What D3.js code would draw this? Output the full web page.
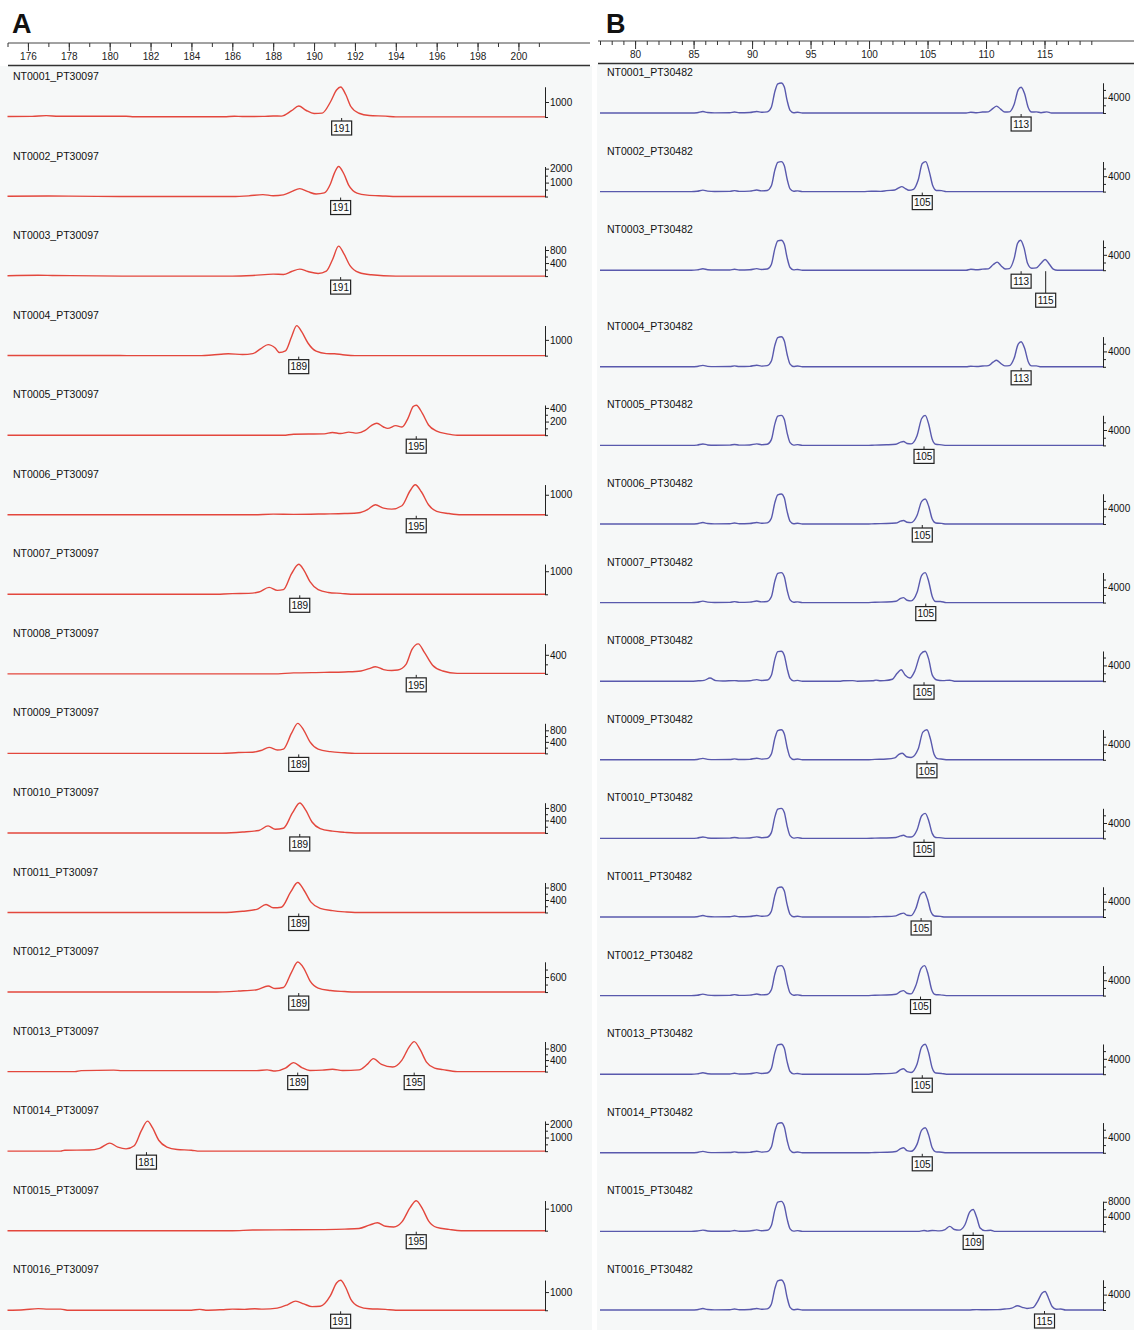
<!DOCTYPE html>
<html lang="en">
<head>
<meta charset="UTF-8">
<title>Electropherograms PT30097 / PT30482</title>
<style>
  body { margin: 0; background: #fff; }
  svg { display: block; font-family: "Liberation Sans", Arial, sans-serif; }
  .trace { fill: none; stroke-width: 1.4; stroke-linejoin: round; }
  .yaxis path, .yaxis line { stroke: #222; }
  .yaxis text { font-size: 10px; fill: #111; font-family: "Liberation Sans", Arial, sans-serif; }
  .head path { display: none; }
  .head line { stroke: #333; }
  .head text { font-size: 10px; fill: #222; font-family: "Liberation Sans", Arial, sans-serif; }
</style>
</head>
<body>
<svg id="chart" width="1134" height="1330"></svg>
<script src="https://d3js.org/d3.v7.min.js"></script>
<script>
// sample / marker names
const sampleIds = ["NT0001","NT0002","NT0003","NT0004","NT0005","NT0006","NT0007","NT0008",
                   "NT0009","NT0010","NT0011","NT0012","NT0013","NT0014","NT0015","NT0016"];
const markerA = "PT30097";
const markerB = "PT30482";

// size (bp) ruler labels
const headerTicksA = [176,178,180,182,184,186,188,190,192,194,196,198,200];
const headerTicksB = [80,85,90,95,100,105,110,115];

// RFU axis ticks per lane
const yTicksA = [[1000],[2000,1000],[800,400],[1000],[400,200],[1000],[1000],[400],
                 [800,400],[800,400],[800,400],[600],[800,400],[2000,1000],[1000],[1000]];
const yMinorA = [[0],[0,500,1500],[0,200,600],[0],[0,100,300],[0],[0],[0,200],
                 [0,200,600],[0,200,600],[0,200,600],[0,300,900],[0,200,600],[0,500,1500],[0],[0]];
const yTicksB = [[4000],[4000],[4000],[4000],[4000],[4000],[4000],[4000],
                 [4000],[4000],[4000],[4000],[4000],[4000],[8000,4000],[4000]];
const yMinorB = [0,2000,6000];

// called alleles [bp, label, staggered]
const allelesA = [[[191.35,"191"]],[[191.3,"191"]],[[191.3,"191"]],[[189.25,"189"]],
                  [[195.0,"195"]],[[195.0,"195"]],[[189.3,"189"]],[[195.0,"195"]],
                  [[189.25,"189"]],[[189.3,"189"]],[[189.25,"189"]],[[189.25,"189"]],
                  [[189.2,"189"],[194.9,"195"]],[[181.8,"181"]],[[195.0,"195"]],[[191.3,"191"]]];
const allelesB = [[[113.0,"113"]],[[104.55,"105"]],[[113.0,"113"],[115.1,"115",1]],[[113.0,"113"]],
                  [[104.7,"105"]],[[104.55,"105"]],[[104.85,"105"]],[[104.7,"105"]],
                  [[104.95,"105"]],[[104.7,"105"]],[[104.45,"105"]],[[104.4,"105"]],
                  [[104.55,"105"]],[[104.55,"105"]],[[108.9,"109"]],[[115.0,"115"]]];

// traces, PT30097 (red): [bp, RFU]
const tracesA = [
  [[175,30],[176.2,40],[176.9,90],[177.5,50],[180.8,50],[181.2,20],[185.6,20],[186.1,50],[186.5,30],[187.5,40],[188,70],[188.4,60],[188.9,420],[189.25,730],[189.6,450],[190,230],[190.4,260],[190.8,1000],[191.1,1800],[191.3,2000],[191.55,1500],[191.8,700],[192.2,250],[192.7,100],[193.5,60],[194,10],[201.3,10]],
  [[175,20],[177,40],[178,30],[181,0],[186,0],[186.8,50],[187.5,140],[188,60],[188.5,120],[188.9,350],[189.3,570],[189.7,350],[190.1,180],[190.5,260],[190.8,900],[191.0,1700],[191.2,2150],[191.45,1650],[191.7,800],[192.1,250],[192.6,100],[193.5,40],[194,0],[201.3,0]],
  [[175,10],[176.5,25],[177.2,20],[181,0],[186,0],[187,20],[188,60],[188.5,50],[188.9,140],[189.3,215],[189.7,140],[190.2,80],[190.6,150],[190.9,500],[191.2,920],[191.45,700],[191.75,330],[192.2,110],[192.8,40],[194,0],[201.3,0]],
  [[175,10],[180,10],[181,0],[184.5,0],[185,40],[185.8,120],[186.5,70],[187,130],[187.4,450],[187.75,700],[188.1,480],[188.3,200],[188.6,300],[188.9,1200],[189.15,1900],[189.4,1500],[189.7,800],[190.1,280],[190.6,130],[191,120],[191.4,60],[192,0],[201.3,0]],
  [[175,0],[188.5,0],[189,15],[190.5,20],[190.9,40],[191.3,25],[191.7,45],[192.1,30],[192.5,70],[192.8,140],[193.07,175],[193.4,120],[193.6,100],[194.0,140],[194.3,120],[194.6,250],[194.85,420],[195.0,440],[195.3,320],[195.6,150],[196,60],[196.5,20],[197,0],[201.3,0]],
  [[175,0],[187,0],[188,30],[189,20],[190.5,40],[191.5,60],[192.2,100],[192.6,250],[193.0,500],[193.4,330],[193.8,280],[194.3,450],[194.7,1200],[194.95,1500],[195.25,1150],[195.6,500],[196,170],[196.6,60],[197.2,0],[201.3,0]],
  [[175,0],[185,0],[186,30],[186.8,40],[187.3,100],[187.8,300],[188.2,170],[188.5,200],[188.9,900],[189.25,1300],[189.5,1050],[189.8,550],[190.2,200],[190.7,80],[191.3,40],[192,0],[201.3,0]],
  [[175,0],[188,0],[189,20],[190.5,30],[191.5,40],[192.3,60],[192.7,110],[193.0,150],[193.4,90],[193.8,70],[194.1,80],[194.5,200],[194.8,520],[195.1,630],[195.4,450],[195.8,180],[196.3,60],[197,10],[201.3,10]],
  [[175,0],[185.5,0],[186.3,30],[187,40],[187.4,100],[187.8,210],[188.2,120],[188.5,150],[188.9,700],[189.2,1040],[189.5,800],[189.8,400],[190.2,150],[190.8,60],[191.5,20],[192,0],[201.3,0]],
  [[175,0],[185.5,0],[186.5,30],[187.3,80],[187.75,225],[188.1,120],[188.5,150],[188.95,650],[189.3,960],[189.6,720],[189.9,350],[190.3,140],[190.9,60],[191.5,20],[192,0],[201.3,0]],
  [[175,0],[185.5,0],[186.5,40],[187.2,100],[187.65,255],[188.0,150],[188.4,170],[188.85,650],[189.2,960],[189.5,720],[189.85,330],[190.3,130],[190.9,60],[191.5,20],[192,0],[201.3,0]],
  [[175,0],[185,0],[186.3,40],[187.2,90],[187.75,240],[188.1,140],[188.5,180],[188.9,800],[189.2,1200],[189.5,950],[189.8,450],[190.2,160],[190.8,60],[191.5,20],[192,0],[201.3,0]],
  [[175,0],[178.3,0],[178.6,35],[180.2,50],[180.6,35],[187.2,35],[187.7,60],[188.1,20],[188.6,120],[189.0,310],[189.4,140],[189.8,40],[190.4,50],[190.9,80],[191.4,40],[192.2,60],[192.6,250],[192.9,450],[193.3,250],[193.85,160],[194.3,400],[194.65,850],[194.9,1040],[195.2,750],[195.5,330],[195.9,120],[196.3,70],[197,0],[201.3,0]],
  [[175,0],[177.6,0],[177.8,70],[179,80],[179.5,200],[180.0,590],[180.4,300],[180.8,170],[181.2,400],[181.55,1500],[181.85,2200],[182.1,1700],[182.4,800],[182.8,300],[183.3,120],[184,70],[184.4,0],[201.3,0]],
  [[175,0],[186,0],[187,30],[189,40],[190.5,50],[191.5,70],[192.2,100],[192.7,250],[193.1,360],[193.5,200],[193.9,170],[194.3,400],[194.7,1050],[195.0,1360],[195.3,1000],[195.6,450],[196,150],[196.6,60],[197.2,0],[201.3,0]],
  [[175,0],[175.8,30],[176.5,90],[177,60],[177.6,60],[178,0],[184,0],[184.4,50],[184.7,0],[185.5,30],[186,60],[186.6,50],[187.1,80],[187.5,60],[188.2,120],[188.7,300],[189.1,500],[189.5,350],[189.9,200],[190.3,220],[190.8,800],[191.1,1500],[191.3,1650],[191.55,1250],[191.8,600],[192.2,200],[192.7,80],[193.5,50],[194,0],[201.3,0]]
];

// PT30482 (blue): the 92 bp peak seen in every lane, then lane-specific part
const lead92 = [[77,0],[84.8,0],[85.3,80],[85.8,380],[86.2,120],[86.8,40],[88.1,60],[88.5,250],[88.9,60],[89.8,120],[90.4,400],[90.8,180],[91.3,300],[91.65,1500],[91.95,5600],[92.2,7600],[92.5,7800],[92.75,6800],[93.0,3200],[93.25,700],[93.55,80],[93.9,200],[94.3,0]];
const lead92b = [[77,0],[84.8,0],[85.4,100],[85.9,200],[86.4,800],[86.9,150],[87.5,60],[88.5,150],[88.9,60],[89.8,120],[90.4,400],[90.8,180],[91.3,300],[91.65,1500],[91.95,5600],[92.2,7500],[92.5,7600],[92.75,6600],[93.0,3200],[93.25,700],[93.55,80],[93.9,200],[94.3,0]];
const lead92c = [[77,0],[84.8,0],[85.3,100],[85.8,350],[86.2,120],[86.8,40],[88.1,60],[88.5,250],[88.9,60],[89.8,120],[90.4,400],[90.8,180],[91.3,300],[91.65,1600],[91.95,5800],[92.2,7900],[92.5,8100],[92.75,7000],[93.0,3300],[93.25,700],[93.55,80],[93.9,200],[94.3,0]];

const tailsB = [
  [[108.3,0],[108.7,200],[109.2,80],[109.7,250],[110.2,300],[110.6,1200],[110.9,1800],[111.25,1000],[111.6,250],[112.0,300],[112.4,2200],[112.75,6000],[113.0,6700],[113.3,5000],[113.6,1500],[113.9,250],[114.3,300],[114.7,80],[115.2,300],[115.6,0],[120,0]],
  [[99.5,0],[100.2,100],[101,60],[101.5,250],[102.2,400],[102.5,900],[102.8,1300],[103.1,800],[103.4,350],[103.8,600],[104.2,3000],[104.55,7300],[104.85,7800],[105.15,5200],[105.45,1500],[105.75,300],[106.2,250],[106.6,0],[120,0]],
  [[108.3,0],[108.7,250],[109.2,100],[109.7,280],[110.2,350],[110.6,1400],[110.95,2100],[111.3,1100],[111.65,300],[112.0,400],[112.4,3000],[112.7,7000],[112.95,7800],[113.25,5800],[113.55,1800],[113.9,500],[114.3,600],[114.7,1800],[115.05,2800],[115.4,1600],[115.75,300],[116.1,0],[120,0]],
  [[108.3,0],[108.7,150],[109.2,80],[109.7,200],[110.2,300],[110.6,1200],[110.9,1700],[111.25,900],[111.6,250],[112.0,300],[112.4,2200],[112.75,5900],[113.0,6500],[113.3,4800],[113.6,1400],[113.9,250],[114.3,250],[114.7,0],[120,0]],
  [[99.8,0],[100.5,80],[101.5,150],[102.3,300],[102.7,850],[102.95,1000],[103.25,500],[103.6,400],[104.1,2500],[104.5,7000],[104.8,7800],[105.1,5500],[105.4,1600],[105.7,300],[106.2,150],[106.6,0],[120,0]],
  [[99.8,0],[100.5,80],[101.5,120],[102.3,250],[102.7,750],[102.95,900],[103.25,450],[103.6,350],[104.1,2200],[104.5,5900],[104.8,6500],[105.1,4600],[105.4,1300],[105.7,250],[106.2,150],[106.6,0],[120,0]],
  [[99.8,0],[100.5,100],[101.5,150],[102.3,350],[102.7,1100],[102.95,1300],[103.25,600],[103.6,450],[104.1,2600],[104.5,7100],[104.8,7800],[105.1,5500],[105.4,1600],[105.7,300],[106.1,300],[106.6,0],[120,0]],
  [[94.6,0],[97.5,0],[97.8,120],[98.6,150],[99,0],[100.3,100],[100.6,260],[101,120],[101.3,150],[102.0,500],[102.4,2000],[102.75,2900],[103.1,1500],[103.5,800],[103.9,2500],[104.4,6800],[104.8,7600],[105.1,5600],[105.4,1600],[105.8,300],[106.3,150],[106.9,250],[107.3,0],[120,0]],
  [[99.8,0],[100.5,100],[101.5,200],[102.2,500],[102.55,1400],[102.85,1700],[103.2,800],[103.6,600],[104.2,2800],[104.6,7200],[104.95,7800],[105.25,5400],[105.55,1500],[105.85,300],[106.3,150],[106.7,0],[120,0]],
  [[99.8,0],[100.5,80],[101.5,120],[102.3,250],[102.7,650],[102.95,800],[103.25,400],[103.6,350],[104.1,2200],[104.5,5900],[104.8,6500],[105.1,4600],[105.4,1300],[105.7,250],[106.2,150],[106.6,0],[120,0]],
  [[99.8,0],[100.5,80],[101.5,120],[102.3,300],[102.7,850],[102.95,1000],[103.25,450],[103.6,350],[104.0,2200],[104.4,5900],[104.7,6500],[105.0,4600],[105.3,1300],[105.6,250],[106.1,150],[106.5,0],[120,0]],
  [[99.8,0],[100.5,100],[101.5,150],[102.3,350],[102.7,1100],[102.95,1300],[103.25,600],[103.6,450],[104.0,2600],[104.45,7100],[104.75,7800],[105.05,5500],[105.35,1600],[105.65,300],[106.1,200],[106.6,0],[120,0]],
  [[99.8,0],[100.5,100],[101.5,150],[102.3,350],[102.7,1200],[102.95,1400],[103.25,650],[103.6,450],[104.1,2600],[104.5,7100],[104.8,7800],[105.1,5500],[105.4,1600],[105.7,300],[106.2,200],[106.6,0],[120,0]],
  [[99.8,0],[100.5,80],[101.5,150],[102.3,350],[102.7,1100],[102.95,1300],[103.25,550],[103.6,400],[104.1,2200],[104.5,5900],[104.8,6500],[105.1,4600],[105.4,1300],[105.7,250],[106.2,150],[106.6,0],[120,0]],
  [[104.3,0],[104.7,250],[105.0,80],[105.4,250],[106,150],[106.5,500],[106.9,1350],[107.3,500],[107.7,350],[108.2,1800],[108.6,5200],[108.9,5900],[109.2,3800],[109.5,900],[109.9,200],[110.4,300],[110.8,0],[120,0]],
  [[108.5,0],[109.2,100],[110,60],[111,100],[111.6,250],[112.2,500],[112.7,1100],[113.1,700],[113.5,400],[114.0,600],[114.4,2200],[114.8,4400],[115.05,4800],[115.35,3000],[115.65,900],[116.0,200],[116.4,250],[116.8,0],[120,0]]
];
const tracesB = tailsB.map((t, i) => (i === 7 ? lead92b : i === 14 ? lead92c : lead92).concat(t));

const svg = d3.select("#chart");
const W = 1134, H = 1330;
const peakPx = 30;   // tallest peak height in each lane

// backgrounds
svg.append("rect").attr("width", W).attr("height", H).attr("fill", "#fff");
svg.append("rect").attr("x", 0).attr("y", 66).attr("width", 592).attr("height", H - 66).attr("fill", "#f6f8f8");
svg.append("rect").attr("x", 597).attr("y", 64).attr("width", W - 597).attr("height", H - 64).attr("fill", "#f6f8f8");

const panels = [
  { letter: "A", marker: markerA, traces: tracesA, ticks: yTicksA, minor: i => yMinorA[i], alleles: allelesA,
    color: "#e3473d", x: d3.scaleLinear().domain([175, 201.3]).range([7.5, 545]),
    left: 8, right: 590, headTop: 43, headBot: 65.5, ruler: headerTicksA, rulerMinor: d3.range(175, 202),
    letterX: 12, nameX: 13, firstBase: 117, step: 79.55 },
  { letter: "B", marker: markerB, traces: tracesB, ticks: yTicksB, minor: () => yMinorB, alleles: allelesB,
    color: "#5959ad", x: d3.scaleLinear().domain([77, 120]).range([600, 1103]),
    left: 598, right: 1134, headTop: 41, headBot: 63.5, ruler: headerTicksB, rulerMinor: d3.range(77, 120),
    letterX: 606, nameX: 607, firstBase: 113, step: 78.6 }
];

panels.forEach(p => {
  // panel letter
  svg.append("text").attr("x", p.letterX).attr("y", 33)
    .style("font-size", "27px").style("font-weight", "bold").attr("fill", "#111")
    .text(p.letter);

  // bp ruler on top
  svg.append("line").attr("x1", p.left).attr("x2", p.right).attr("y1", p.headTop).attr("y2", p.headTop)
    .attr("stroke", "#444").attr("stroke-width", 1);
  svg.append("line").attr("x1", p.left).attr("x2", p.right).attr("y1", p.headBot).attr("y2", p.headBot)
    .attr("stroke", "#333").attr("stroke-width", 1.5);
  svg.append("g").attr("class", "head").attr("transform", `translate(0,${p.headTop})`)
    .call(d3.axisBottom(p.x).tickValues(p.rulerMinor).tickSize(4).tickFormat(""));
  svg.append("g").attr("class", "head").attr("transform", `translate(0,${p.headTop})`)
    .call(d3.axisBottom(p.x).tickValues(p.ruler).tickSize(8).tickPadding(2).tickFormat(d3.format("d")));

  // lanes
  let extra = 0;
  p.traces.forEach((trace, i) => {
    const base = p.firstBase + i * p.step + extra;
    if (p.alleles[i].some(a => a[2])) extra += 18;
    const g = svg.append("g").attr("transform", `translate(0,${base})`);
    const ymax = d3.max(trace, d => d[1]);
    const y = d3.scaleLinear().domain([0, ymax]).range([0, -peakPx]);

    g.append("text").attr("x", p.nameX).attr("y", -37)
      .style("font-size", "10.5px").attr("fill", "#111")
      .text(sampleIds[i] + "_" + p.marker);

    g.append("path").datum(trace).attr("class", "trace").attr("stroke", p.color)
      .attr("d", d3.line().x(d => p.x(d[0])).y(d => y(d[1])).curve(d3.curveMonotoneX));

    const ax = p.x.range()[1];
    g.append("g").attr("class", "yaxis").attr("transform", `translate(${ax},0)`)
      .call(d3.axisRight(y).tickValues(p.minor(i)).tickSize(3).tickSizeOuter(0).tickFormat(""));
    g.append("g").attr("class", "yaxis").attr("transform", `translate(${ax},0)`)
      .call(d3.axisRight(y).tickValues(p.ticks[i]).tickSize(4).tickSizeOuter(0).tickPadding(1).tickFormat(d3.format("d")));

    // allele call boxes
    p.alleles[i].forEach(a => {
      const lx = p.x(a[0]);
      const top = a[2] ? 23 : 4;
      g.append("line").attr("x1", lx).attr("x2", lx).attr("y1", 1).attr("y2", top)
        .attr("stroke", "#222").attr("stroke-width", 1);
      g.append("rect").attr("x", lx - 10).attr("y", top).attr("width", 20).attr("height", 14)
        .attr("fill", "#fbfcfc").attr("stroke", "#222").attr("stroke-width", 1.2);
      g.append("text").attr("x", lx).attr("y", top + 10.8).attr("text-anchor", "middle")
        .style("font-size", "10px").attr("fill", "#111").text(a[1]);
    });
  });
});
</script>
</body>
</html>
